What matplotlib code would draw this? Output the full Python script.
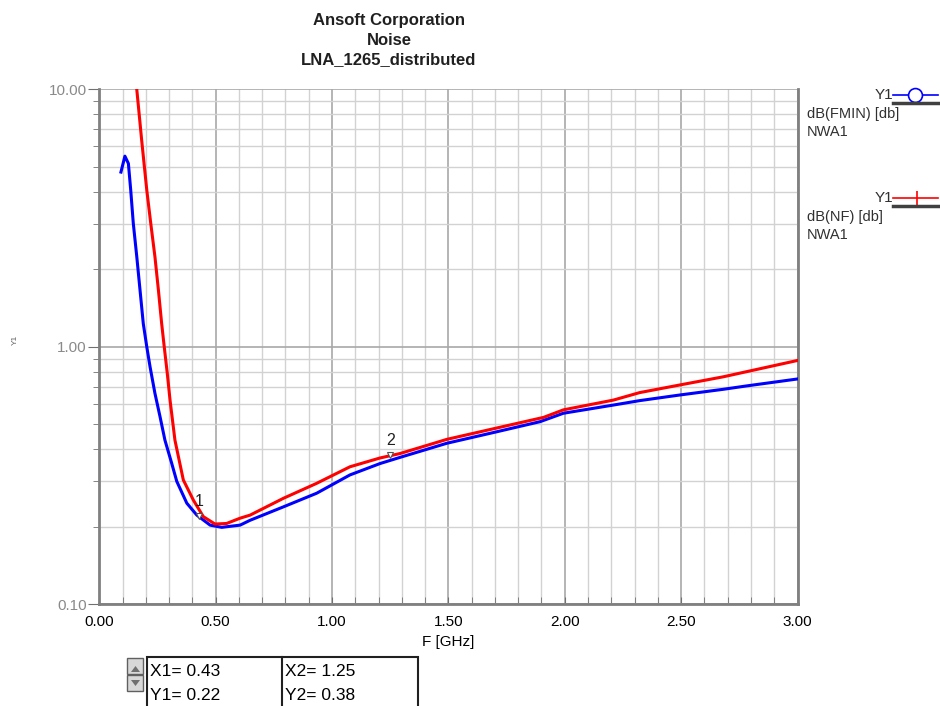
import numpy as np
import matplotlib
matplotlib.use("Agg")
import matplotlib.pyplot as plt
from matplotlib.lines import Line2D
from matplotlib.patches import Rectangle, Polygon
from matplotlib.ticker import MultipleLocator, LogLocator, NullFormatter, FixedLocator

plt.rcParams['font.family'] = ['Liberation Sans', 'DejaVu Sans']

# ------------------------------------------------------------------
# data (F in GHz, values in dB)
# ------------------------------------------------------------------
f_fmin = [0.093, 0.110, 0.125, 0.135, 0.146, 0.161, 0.175, 0.189, 0.204, 0.218,
          0.239, 0.261, 0.282, 0.311, 0.333, 0.376, 0.419, 0.476, 0.526, 0.605,
          0.648, 0.791, 0.934, 1.077, 1.206, 1.292, 1.493, 1.700, 1.894, 1.994,
          2.209, 2.322, 2.495, 2.682, 2.782, 3.000]
fmin_db = [4.77, 5.50, 5.15, 4.06, 3.02, 2.24, 1.66, 1.23, 1.00, 0.837,
           0.660, 0.535, 0.434, 0.353, 0.300, 0.247, 0.222, 0.203, 0.199, 0.203,
           0.212, 0.239, 0.270, 0.318, 0.352, 0.372, 0.422, 0.466, 0.512, 0.552,
           0.594, 0.618, 0.650, 0.684, 0.705, 0.750]

f_nf = [0.161, 0.182, 0.204, 0.221, 0.239, 0.254, 0.268, 0.279, 0.292, 0.304,
        0.325, 0.361, 0.404, 0.447, 0.497, 0.547, 0.605, 0.648, 0.791, 0.934,
        1.077, 1.206, 1.292, 1.493, 1.700, 1.909, 1.994, 2.209, 2.322, 2.495,
        2.682, 3.000]
nf_db = [10.0, 6.35, 4.06, 3.02, 2.24, 1.66, 1.23, 1.00, 0.79, 0.62,
         0.434, 0.304, 0.254, 0.219, 0.205, 0.206, 0.216, 0.222, 0.258, 0.295,
         0.342, 0.370, 0.385, 0.437, 0.482, 0.532, 0.569, 0.621, 0.664, 0.711,
         0.765, 0.885]

marker_x = [0.43, 1.25]
marker_y = [0.22, 0.38]
marker_names = ["1", "2"]

x_ticks = [0.0, 0.5, 1.0, 1.5, 2.0, 2.5, 3.0]
y_ticks = [0.1, 1.0, 10.0]

W, H = 940, 706
def fx(px):
    return px / W
def fy(py):
    return 1 - py / H

# ------------------------------------------------------------------
# figure
# ------------------------------------------------------------------
fig = plt.figure(figsize=(9.4, 7.06), dpi=100)
ax = fig.add_axes([fx(99.3), fy(604.3), fx(797.5) - fx(99.3), fy(89.3) - fy(604.3)])

ax.set_yscale("log")
ax.set_xlim(0, 3.0)
ax.set_ylim(0.1, 10.0)

ax.xaxis.set_major_locator(FixedLocator(x_ticks))
ax.xaxis.set_minor_locator(MultipleLocator(0.1))
ax.yaxis.set_major_locator(FixedLocator(y_ticks))
ax.yaxis.set_minor_locator(LogLocator(base=10, subs=np.arange(2, 10)))
ax.yaxis.set_minor_formatter(NullFormatter())
ax.set_xticklabels([f"{v:.2f}" for v in x_ticks])
ax.set_yticklabels([f"{v:.2f}" for v in y_ticks])

ax.grid(which="major", color="#a8a8a8", lw=1.2)
ax.grid(which="minor", color="#d2d2d2", lw=1.0)
ax.set_axisbelow(True)

ax.tick_params(axis="x", which="both", direction="in", length=5, color="#707070",
               labelsize=11, labelcolor="black", pad=8, top=False)
ax.tick_params(axis="y", which="major", direction="out", length=8, color="#707070",
               labelsize=11, labelcolor="#8a8a8a", pad=1)
ax.tick_params(axis="y", which="minor", direction="out", length=4, color="#707070")

for side in ["left", "bottom", "right"]:
    ax.spines[side].set_color("#808080")
    ax.spines[side].set_linewidth(2)
ax.spines["top"].set_visible(False)

ax.plot(f_fmin, fmin_db, color="#0000ff", lw=2.2, clip_on=True, zorder=3)
ax.plot(f_nf, nf_db, color="#ff0000", lw=2.2, clip_on=True, zorder=3)

# markers 1 and 2
for mx, my, name in zip(marker_x, marker_y, marker_names):
    ax.plot([mx], [my], marker="v", ms=4, mfc="white", mec="#505050", mew=0.8, zorder=4)
    ax.annotate(name, (mx, my), xytext=(0, 5), textcoords="offset points",
                ha="center", va="bottom", fontsize=11.5, color="#202020", zorder=4)

ax.set_xlabel("F [GHz]", fontsize=11, color="black", labelpad=4)
fig.text(fx(15), fy(340), "Y1", rotation=90, fontsize=6, color="#606060",
         ha="center", va="center")

# title
fig.text(fx(389), fy(13), "Ansoft Corporation\nNoise\nLNA_1265_distributed",
         ha="center", va="top", fontsize=12, fontweight="bold", color="#202020",
         linespacing=1.38)

# legend on the right
def legend_entry(y_top, color, marker, name):
    fig.text(fx(893), fy(y_top), "Y1", ha="right", va="center", fontsize=11, color="#303030")
    fig.add_artist(Line2D([fx(893), fx(938)], [fy(y_top), fy(y_top)],
                          color=color, lw=1.2, transform=fig.transFigure))
    if marker == "o":
        fig.add_artist(Line2D([fx(915)], [fy(y_top)], marker="o", ms=10, mfc="white",
                              mec=color, mew=1.2, color=color, transform=fig.transFigure))
    else:
        fig.add_artist(Line2D([fx(917)], [fy(y_top)], marker="|", ms=10,
                              mec=color, mew=1.2, color=color, transform=fig.transFigure))
    fig.add_artist(Line2D([fx(893), fx(938)], [fy(y_top + 8), fy(y_top + 8)],
                          color="#404040", lw=2.5, transform=fig.transFigure))
    fig.text(fx(807), fy(y_top + 19), name, ha="left", va="center", fontsize=10.5, color="#303030")
    fig.text(fx(807), fy(y_top + 37), "NWA1", ha="left", va="center", fontsize=10.5, color="#303030")

legend_entry(95, "#0000ff", "o", "dB(FMIN) [db]")
legend_entry(198, "#ff0000", "|", "dB(NF) [db]")

# marker readout box
for y0, pts in [(658, [(131, 672), (140, 672), (135.5, 666)]),
                (675, [(131, 680), (140, 680), (135.5, 686)])]:
    fig.add_artist(Rectangle((fx(127), fy(y0 + 16)), fx(16), 16 / H, facecolor="#d8d8d8",
                             edgecolor="#606060", lw=1, transform=fig.transFigure))
    fig.add_artist(Polygon([(fx(px), fy(py)) for px, py in pts], closed=True,
                           facecolor="#707070", edgecolor="none", transform=fig.transFigure))
fig.add_artist(Rectangle((fx(147), fy(710)), fx(418 - 147), 53 / H, facecolor="white",
                         edgecolor="#202020", lw=1.5, transform=fig.transFigure))
fig.add_artist(Line2D([fx(282), fx(282)], [fy(657), fy(710)], color="#202020", lw=1.5,
                      transform=fig.transFigure))
fig.text(fx(150), fy(672), f"X1= {marker_x[0]:.2f}", ha="left", va="center", fontsize=12.5)
fig.text(fx(150), fy(696), f"Y1= {marker_y[0]:.2f}", ha="left", va="center", fontsize=12.5)
fig.text(fx(285), fy(672), f"X2= {marker_x[1]:.2f}", ha="left", va="center", fontsize=12.5)
fig.text(fx(285), fy(696), f"Y2= {marker_y[1]:.2f}", ha="left", va="center", fontsize=12.5)

fig.savefig("out.png", dpi=100)
